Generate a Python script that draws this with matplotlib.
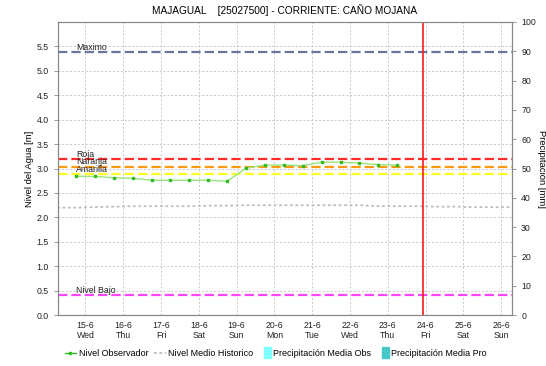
import matplotlib.pyplot as plt
from matplotlib.lines import Line2D
from matplotlib.patches import Patch, Rectangle
from matplotlib.legend_handler import HandlerPatch

plt.rcParams['font.family'] = ['Liberation Sans', 'DejaVu Sans']

# dias (0 = 15-6)
day_labels = ['15-6\nWed', '16-6\nThu', '17-6\nFri', '18-6\nSat', '19-6\nSun', '20-6\nMon',
              '21-6\nTue', '22-6\nWed', '23-6\nThu', '24-6\nFri', '25-6\nSat', '26-6\nSun']

# nivel observado cada 12 horas
obs_x = [-0.25, 0.25, 0.75, 1.25, 1.75, 2.25, 2.75, 3.25, 3.75,
         4.25, 4.75, 5.25, 5.75, 6.25, 6.75, 7.25, 7.75, 8.25]
obs_y = [2.84, 2.84, 2.81, 2.80, 2.76, 2.76, 2.76, 2.76, 2.74,
         3.01, 3.07, 3.07, 3.06, 3.13, 3.13, 3.11, 3.08, 3.07]

# nivel medio historico
hist_x = [-0.75, -0.25, 0.25, 0.75, 1.25, 1.75, 2.25, 2.75, 3.25, 3.75, 4.25, 4.75, 5.25,
          5.75, 6.25, 6.75, 7.25, 7.75, 8.25, 8.75, 9.25, 9.75, 10.25, 10.75, 11.3]
hist_y = [2.20, 2.20, 2.21, 2.22, 2.23, 2.23, 2.23, 2.23, 2.24, 2.24, 2.25, 2.25, 2.25,
          2.25, 2.25, 2.25, 2.25, 2.23, 2.23, 2.23, 2.22, 2.22, 2.21, 2.21, 2.21]

# niveles de alerta
umbral_nombres = ['Maximo', 'Roja', 'Naranja', 'Amarilla', 'Nivel Bajo']
umbral_valores = [5.39, 3.19, 3.04, 2.89, 0.41]
umbral_colores = ['#6a76a0', '#ff2a2a', '#ff9a10', '#ffff22', '#ff44ff']

hoy = 8.92

fig = plt.figure(figsize=(5.46, 3.66), dpi=100)
ax = fig.add_axes([0.106, 0.139, 0.832, 0.801])
ax2 = ax.twinx()

ax.set_xlim(-0.73, 11.29)
ax.set_ylim(0, 6.0)
ax2.set_ylim(0, 100)

ax.set_yticks([i * 0.5 for i in range(12)])
ax.set_yticklabels(['%.1f' % (i * 0.5) for i in range(12)])
ax2.set_yticks(range(0, 101, 10))
ax.set_xticks(range(len(day_labels)))
ax.set_xticklabels(day_labels)

ax.grid(True, color='#c8c8c8', linestyle=(0, (2, 2)), linewidth=0.7)
ax.set_axisbelow(True)

for nombre, val, col in zip(umbral_nombres, umbral_valores, umbral_colores):
    ax.axhline(val, color=col, linewidth=1.6, dashes=(4.2, 1.8))
    ax.text(-0.24, val + 0.005, nombre, fontsize=6.3, ha='left', va='bottom', color='#222222')

ax.plot(hist_x, hist_y, color='#bdbdbd', linewidth=1.3, dashes=(1.5, 1.5))
ax.plot(obs_x, obs_y, color='#98e47c', linewidth=1.0)
ax.plot(obs_x, obs_y, linestyle='none', marker='s', markersize=2.0, color='#33bb22')

ax.axvline(hoy, color='#ff1a1a', linewidth=1.2)

for a in (ax, ax2):
    for s in a.spines.values():
        s.set_color('#888888')
        s.set_linewidth(0.8)
    a.tick_params(labelsize=6.3, colors='#222222', length=3, width=0.6)
ax.tick_params(axis='x', length=0, pad=4)
ax.tick_params(axis='y', color='#888888')
ax2.tick_params(axis='y', color='#888888')

ax.set_ylabel('Nivel del Agua [m]', fontsize=6.8, labelpad=2)
ax2.set_ylabel('Precipitación [mm]', fontsize=6.8, rotation=270, labelpad=7)
ax.set_title('MAJAGUAL    [25027500] - CORRIENTE: CAÑO MOJANA', fontsize=7.3, pad=6)


def caja_estrecha(legend, orig_handle, xdescent, ydescent, width, height, fontsize):
    return Rectangle((width - 4.5, -1.5), 4.5, height + 3)


handles = [
    Line2D([], [], color='#33bb22', linewidth=1, marker='s', markersize=2.0),
    Line2D([], [], color='#bdbdbd', linewidth=1.3, dashes=(1.5, 1.5)),
    Patch(facecolor='#80ffff', edgecolor='#80ffff'),
    Patch(facecolor='#44c8c8', edgecolor='#44c8c8'),
]
labels = ['Nivel Observador', 'Nivel Medio Historico', 'Precipitación Media Obs', 'Precipitación Media Pro']
fig.legend(handles, labels, loc='lower center', bbox_to_anchor=(0.505, 0.0), ncol=4,
           frameon=False, fontsize=6.5, handlelength=1.3, handletextpad=0.3, columnspacing=0.6,
           handler_map={Patch: HandlerPatch(patch_func=caja_estrecha)})

fig.savefig('out.png', dpi=100)
